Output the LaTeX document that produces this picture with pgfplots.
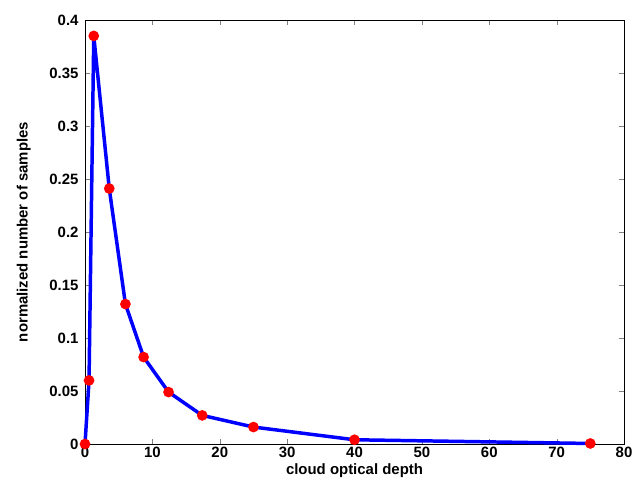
\documentclass[border=0pt]{standalone}
\usepackage{pgfplots}
\pgfplotsset{compat=1.18}
\usepackage{fontspec}
\setmainfont{Liberation Sans}
\begin{document}
\begin{tikzpicture}
\begin{axis}[
  name=ax,
  scale only axis, width=539bp, height=424bp,
  xmin=0, xmax=80, ymin=0, ymax=0.4,
  xtick={0,10,...,80}, ytick={0,0.05,...,0.4},
  yticklabel style={/pgf/number format/fixed, /pgf/number format/precision=2, xshift=-3pt},
  /pgf/number format/assume math mode=true,
  ticklabel style={font=\bfseries\fontsize{15}{17}\selectfont},
  label style={font=\bfseries\fontsize{15}{17}\selectfont},
  xlabel={cloud optical depth}, ylabel={normalized number of samples},
  xlabel style={yshift=1pt}, ylabel style={yshift=12pt},
  tick align=inside, major tick length=5pt,
  axis line style={black}, clip=false,
]
\addplot[blue, line width=3.5pt, mark=*, mark size=3.5pt, mark options={red, draw=red, fill=red}]
coordinates {(0,0)(0.6,0.06)(1.3,0.385)(3.6,0.241)(6,0.132)(8.7,0.082)(12.4,0.049)(17.4,0.027)(25,0.016)(40,0.004)(75,0.0005)};
\end{axis}
\path (ax.north east) ++(12bp,20bp) coordinate (a);
\path (a) rectangle (a);
\path (ax.south west) ++(-85bp,-49bp) coordinate (b);
\path (b) rectangle (b);
\end{tikzpicture}
\end{document}
